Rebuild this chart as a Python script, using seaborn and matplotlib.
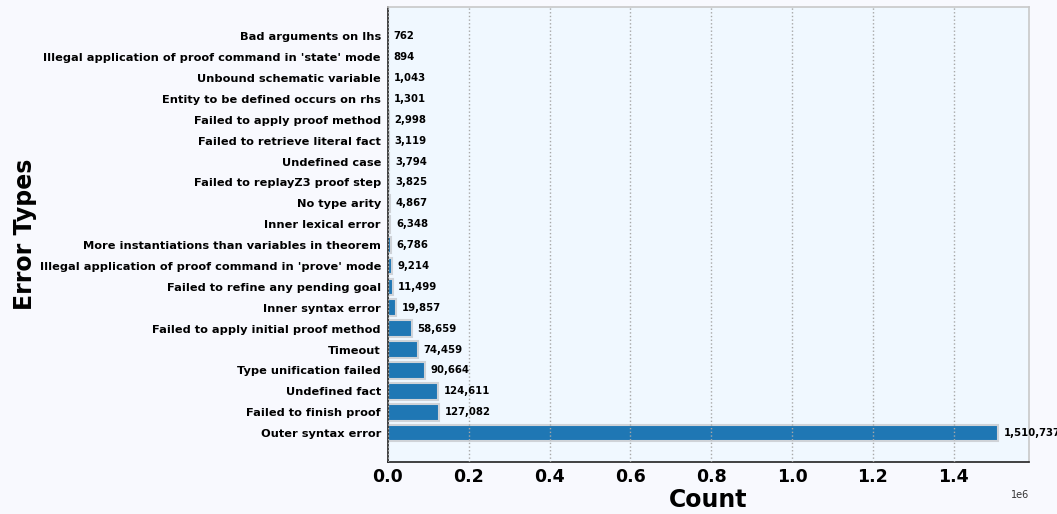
import numpy as np
import pandas as pd
import seaborn as sns
import matplotlib.pyplot as plt

error_types = [
    'Bad arguments on lhs',
    "Illegal application of proof command in 'state' mode",
    'Unbound schematic variable',
    'Entity to be defined occurs on rhs',
    'Failed to apply proof method',
    'Failed to retrieve literal fact',
    'Undefined case',
    'Failed to replayZ3 proof step',
    'No type arity',
    'Inner lexical error',
    'More instantiations than variables in theorem',
    "Illegal application of proof command in 'prove' mode",
    'Failed to refine any pending goal',
    'Inner syntax error',
    'Failed to apply initial proof method',
    'Timeout',
    'Type unification failed',
    'Undefined fact',
    'Failed to finish proof',
    'Outer syntax error',
]
counts = [762, 894, 1043, 1301, 2998, 3119, 3794, 3825, 4867, 6348,
          6786, 9214, 11499, 19857, 58659, 74459, 90664, 124611, 127082, 1510737]

df = pd.DataFrame({'error': error_types, 'count': counts})

sns.set_style('white', {'text.color': 'black', 'axes.labelcolor': 'black',
                        'xtick.color': 'black', 'ytick.color': 'black'})
plt.rcParams['font.family'] = ['DejaVu Sans']

fig = plt.figure(figsize=(10.57, 5.14), dpi=100, facecolor='#f8f9fe')
ax = fig.add_axes([0.367, 0.101, 0.6065, 0.885])
ax.set_facecolor('#f0f8ff')

sns.barplot(data=df, x='count', y='error', orient='h', order=error_types,
            color='#1f77b4', saturation=1, width=0.8,
            edgecolor='#cfd3d8', linewidth=1.5, ax=ax)

ax.bar_label(ax.containers[0], labels=[f'{c:,}' for c in counts],
             padding=4, fontsize=7.3, fontweight='bold', color='black')

ax.set_xlim(0, max(counts) * 1.05)
ax.set_ylim(len(counts) - 1 + 1.39, -1.39)
ax.grid(axis='x', linestyle=':', color='#a8a8a8', linewidth=1, zorder=3)
ax.set_axisbelow(False)

ax.set_xlabel('Count', fontsize=17, fontweight='bold', labelpad=2)
ax.set_ylabel('Error Types', fontsize=17, fontweight='bold')
ax.yaxis.set_label_coords(-0.547, 0.5)
ax.tick_params(axis='x', labelsize=12.5, length=0, pad=4)
ax.tick_params(axis='y', labelsize=8.2, length=3, width=1, color='#333333', pad=2)
for lbl in ax.get_xticklabels() + ax.get_yticklabels():
    lbl.set_fontweight('bold')
ax.xaxis.get_offset_text().set_fontsize(7)
ax.xaxis.get_offset_text().set_color('#333333')

for side in ['left', 'bottom']:
    ax.spines[side].set_color('#222222')
    ax.spines[side].set_linewidth(1.2)
for side in ['top', 'right']:
    ax.spines[side].set_color('#c8c8c8')
    ax.spines[side].set_linewidth(1.2)

fig.savefig('out.png', dpi=100, facecolor=fig.get_facecolor())
